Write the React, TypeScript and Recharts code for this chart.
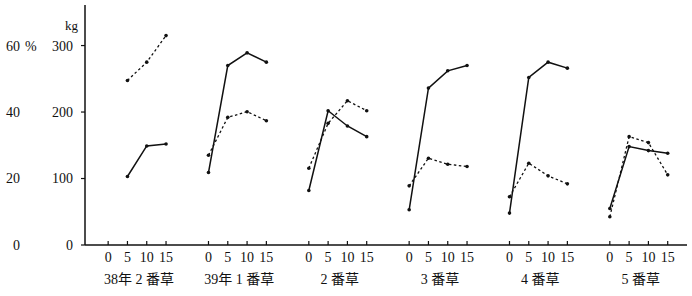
import React from 'react';
import { LineChart, Line, XAxis, YAxis } from 'recharts';

const DAYS = [0, 5, 10, 15];
const GROUPS = ['38年 2 番草', '39年 1 番草', '2 番草', '3 番草', '4 番草', '5 番草'];

// solid line, kg (left inner axis)
const YIELD_KG = [
  [null, 103, 149, 152],
  [109, 270, 289, 275],
  [82, 202, 179, 163],
  [53, 236, 262, 270],
  [48, 252, 275, 266],
  [55, 148, 142, 138],
];

// dotted line, % (left outer axis)
const RATIO_PCT = [
  [null, 49.5, 55, 63],
  [27, 38.4, 40.1, 37.4],
  [23.1, 36.6, 43.4, 40.4],
  [17.8, 26.1, 24.3, 23.6],
  [14.5, 24.6, 20.8, 18.4],
  [8.5, 32.6, 30.8, 21.1],
];

const KG_TICKS = [0, 100, 200, 300];
const PCT_TICKS = [0, 20, 40, 60];

const GAP = 26; // x units between the start of one group and the next
const INK = '#111';
const FONT = "'Liberation Serif', 'DejaVu Serif', 'Noto Sans CJK JP', serif";

const rows: any[] = [];
GROUPS.forEach((_, g) => {
  DAYS.forEach((d, i) => {
    rows.push({ x: g * GAP + d, kg: YIELD_KG[g][i], pct: RATIO_PCT[g][i] });
  });
  rows.push({ x: g * GAP + 20, kg: null, pct: null });
});

const dayTicks = GROUPS.flatMap((_, g) => DAYS.map(d => g * GAP + d));
const groupTicks = GROUPS.map((_, g) => g * GAP + 8);

const PctTick = ({ x, y, payload }: any) => (
  <g>
    <text x={x} y={y} dy="0.355em" textAnchor="end" fontSize={14} fill={INK} fontFamily={FONT}>
      {payload.value}
    </text>
    {payload.value === 60 && (
      <text x={x + 5} y={y} dy="0.355em" textAnchor="start" fontSize={14} fill={INK} fontFamily={FONT}>
        %
      </text>
    )}
  </g>
);

export default function App() {
  const tickStyle = { fontSize: 14, fill: INK, fontFamily: FONT };
  return (
    <div style={{ position: 'absolute', left: 0, top: 0, width: 692, height: 296, background: '#fff' }}>
      <LineChart width={692} height={296} data={rows} margin={{ top: 5, right: 5, bottom: 0, left: 0 }}>
        <XAxis
          dataKey="x"
          type="number"
          domain={[-6, 150]}
          allowDataOverflow
          ticks={dayTicks}
          interval={0}
          tickFormatter={(v: number) => String(((v % GAP) + GAP) % GAP)}
          tickSize={-4}
          tickMargin={11}
          tick={tickStyle}
          stroke={INK}
          axisLine={{ stroke: INK, strokeWidth: 1.5 }}
          tickLine={{ stroke: INK, strokeWidth: 1.2 }}
          height={28}
        />
        <XAxis
          xAxisId="grp"
          dataKey="x"
          type="number"
          domain={[-6, 150]}
          allowDataOverflow
          ticks={groupTicks}
          interval={0}
          tickFormatter={(v: number) => GROUPS[Math.round((v - 8) / GAP)]}
          tickSize={0}
          tickMargin={1}
          tick={tickStyle}
          axisLine={false}
          tickLine={false}
          height={23}
        />
        <YAxis
          yAxisId="kg"
          domain={[0, 361]}
          ticks={KG_TICKS}
          interval={0}
          width={40}
          tickSize={4}
          tickMargin={8}
          tick={tickStyle}
          axisLine={{ stroke: INK, strokeWidth: 1.5 }}
          tickLine={{ stroke: INK, strokeWidth: 1.2 }}
          label={({ viewBox }: any) => (
            <text x={viewBox.x + 20} y={viewBox.y + 25} fontSize={13} fill={INK} fontFamily={FONT}>
              kg
            </text>
          )}
        />
        <YAxis
          yAxisId="pct"
          domain={[0, 72.2]}
          ticks={PCT_TICKS}
          interval={0}
          width={45}
          tickSize={0}
          tickMargin={25}
          tick={<PctTick />}
          axisLine={false}
          tickLine={false}
        />
        <Line
          yAxisId="kg"
          dataKey="kg"
          type="linear"
          stroke={INK}
          strokeWidth={1.5}
          dot={{ r: 1.8, fill: INK, stroke: 'none' }}
          activeDot={false}
          connectNulls={false}
          isAnimationActive={false}
        />
        <Line
          yAxisId="pct"
          dataKey="pct"
          type="linear"
          stroke={INK}
          strokeWidth={1.3}
          strokeDasharray="2.5 2.5"
          dot={{ r: 1.8, fill: INK, stroke: 'none', strokeDasharray: '' }}
          activeDot={false}
          connectNulls={false}
          isAnimationActive={false}
        />
      </LineChart>
    </div>
  );
}
